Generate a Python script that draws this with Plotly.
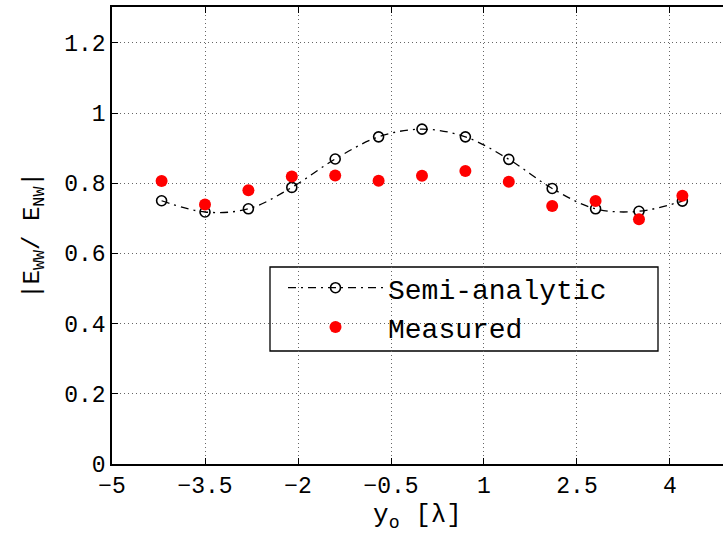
import plotly.graph_objects as go

# Data
y0 = [-4.2, -3.5, -2.8, -2.1, -1.4, -0.7, 0.0, 0.7, 1.4, 2.1, 2.8, 3.5, 4.2]
semi_analytic = [0.750, 0.718, 0.727, 0.788, 0.869, 0.932, 0.954, 0.932, 0.868, 0.785, 0.727, 0.720, 0.749]
measured = [0.806, 0.739, 0.780, 0.819, 0.822, 0.807, 0.821, 0.835, 0.804, 0.735, 0.749, 0.697, 0.764]
x_ticks = [-5, -3.5, -2, -0.5, 1, 2.5, 4]
x_tick_text = ["\u22125", "\u22123.5", "\u22122", "\u22120.5", "1", "2.5", "4"]
y_ticks = [0, 0.2, 0.4, 0.6, 0.8, 1.0, 1.2]
y_tick_text = ["0", "0.2", "0.4", "0.6", "0.8", "1", "1.2"]

FONT = "Liberation Mono, Courier New, monospace"

fig = go.Figure()
fig.add_trace(go.Scatter(
    x=y0, y=semi_analytic, name="Semi-analytic",
    mode="lines+markers",
    line=dict(color="black", width=1.3, dash="8px,5px,2px,5px", shape="spline", smoothing=1.0),
    marker=dict(symbol="circle-open", size=10, color="black", line=dict(width=1.6, color="black")),
))
fig.add_trace(go.Scatter(
    x=y0, y=measured, name="Measured",
    mode="markers",
    marker=dict(symbol="circle", size=12, color="#ff0000"),
))

fig.add_shape(type="rect", xref="paper", yref="paper",
              x0=(270 - 112) / 611, x1=(658 - 112) / 611,
              y0=(464 - 351) / 457, y1=(464 - 267) / 457,
              line=dict(color="black", width=1.3), fillcolor="white", layer="between")

fig.update_layout(
    width=723, height=535,
    margin=dict(l=112, r=0, t=7, b=71),
    paper_bgcolor="white", plot_bgcolor="white",
    font=dict(family=FONT, color="black", size=23),
    showlegend=True,
    legend=dict(
        x=(283 - 112) / 611, y=(464 - 263) / 457, xanchor="left", yanchor="top",
        bgcolor="rgba(0,0,0,0)", borderwidth=0,
        font=dict(family=FONT, size=28, color="black"),
        itemwidth=95,
    ),
    xaxis=dict(
        range=[-5, 4.855],
        tickmode="array", tickvals=x_ticks, ticktext=x_tick_text,
        ticks="inside", ticklen=6, tickwidth=1, tickcolor="black",
        showline=True, linecolor="black", linewidth=1.5, mirror="ticks",
        showgrid=True, gridcolor="#666666", gridwidth=1, griddash="1px,3px",
        zeroline=False,
        tickfont=dict(family=FONT, size=23),
        title=dict(text="y<sub>o</sub> [\u03bb]", font=dict(family=FONT, size=26), standoff=4),
    ),
    yaxis=dict(
        range=[0, 1.302],
        tickmode="array", tickvals=y_ticks, ticktext=y_tick_text,
        ticks="inside", ticklen=6, tickwidth=1, tickcolor="black",
        showline=True, linecolor="black", linewidth=1.5, mirror=False,
        showgrid=True, gridcolor="#666666", gridwidth=1, griddash="1px,3px",
        zeroline=False,
        tickfont=dict(family=FONT, size=23),
        title=dict(text="|E<sub>WW</sub>/ E<sub>NW</sub>|", font=dict(family=FONT, size=24), standoff=18),
    ),
)

fig.write_html("out.html")
